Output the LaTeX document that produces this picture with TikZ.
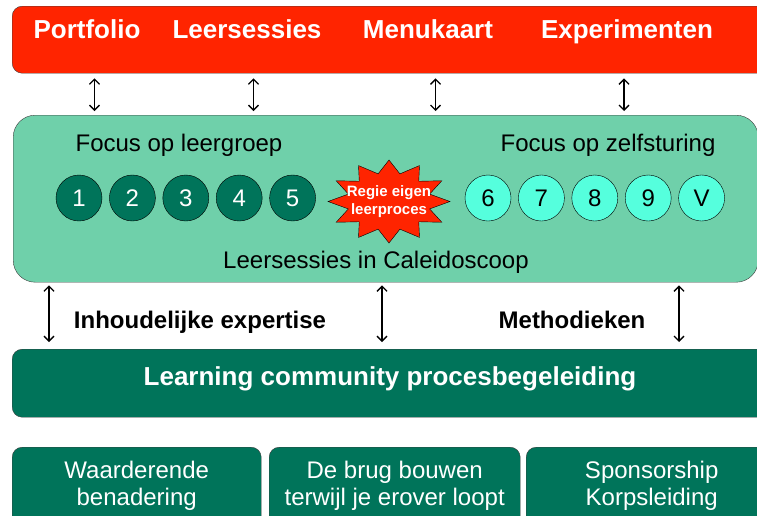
\documentclass[tikz,border=0pt]{standalone}
\usepackage{fontspec}
\setmainfont{Liberation Sans}
\usepackage{tikz}
\usetikzlibrary{shapes.geometric, arrows.meta, positioning}
\definecolor{bannerred}{RGB}{255,36,0}
\definecolor{mintgreen}{RGB}{111,208,170}
\definecolor{deepgreen}{RGB}{0,116,90}
\definecolor{aquaball}{RGB}{85,255,221}
\definecolor{edgegray}{RGB}{60,60,60}

\tikzset{
    bar/.style={draw=edgegray, anchor=north west, inner sep=0pt},
    topword/.style={anchor=base, text=white, font=\fontsize{26}{30}\selectfont\bfseries},
    plainword/.style={anchor=base, font=\fontsize{24}{28}\selectfont},
    boldword/.style={anchor=base, font=\fontsize{24}{28}\selectfont\bfseries},
    boxtext/.style={anchor=north, align=center, inner sep=0pt, text=white, font=\fontsize{24}{27}\selectfont},
    ball/.style={circle, draw=black, minimum size=46pt, inner sep=0pt, font=\fontsize{24}{28}\selectfont},
    link/.style={{Straight Barb[length=5pt,width=10pt]}-{Straight Barb[length=5pt,width=10pt]}, line width=1.3pt}
}

\begin{document}
\begin{tikzpicture}[x=1pt, y=-1pt]
    \useasboundingbox (0,0) rectangle (757,515);
    \clip (0,0) rectangle (757,515);

    % Top bar
    \node[bar, fill=bannerred, rounded corners=10pt, minimum width=780pt, minimum height=67pt] (topbar) at (12,6) {};
    \node[topword] (portfolio) at (87,38) {Portfolio};
    \node[topword] (sessies) at (247,38) {Leersessies};
    \node[topword] (menu) at (428,38) {Menukaart};
    \node[topword] (exper) at (627,38) {Experimenten};

    % Caleidoscoop
    \node[bar, fill=mintgreen, rounded corners=22pt, minimum width=745pt, minimum height=167pt] (cal) at (13,115) {};
    \node[plainword] (groep) at (179,151) {Focus op leergroep};
    \node[plainword] (zelf) at (608,151) {Focus op zelfsturing};
    \node[plainword] (calname) at (376,268) {Leersessies in Caleidoscoop};

    \node[ball, fill=deepgreen, text=white] (b1) at (79,198) {1};
    \node[ball, fill=deepgreen, text=white, right=7pt of b1] (b2) {2};
    \node[ball, fill=deepgreen, text=white, right=7pt of b2] (b3) {3};
    \node[ball, fill=deepgreen, text=white, right=7pt of b3] (b4) {4};
    \node[ball, fill=deepgreen, text=white, right=7pt of b4] (b5) {5};

    \node[ball, fill=aquaball] (b6) at (488,198) {6};
    \node[ball, fill=aquaball, right=7pt of b6] (b7) {7};
    \node[ball, fill=aquaball, right=7pt of b7] (b8) {8};
    \node[ball, fill=aquaball, right=7pt of b8] (b9) {9};
    \node[ball, fill=aquaball, right=7pt of b9] (bv) {V};

    % Regie star
    \node[star, star points=12, star point ratio=1.45, draw=black, fill=bannerred, inner sep=0pt, minimum size=83pt, xscale=1.47] (regie) at (389,201.5) {};
    \node[align=center, text=white, font=\fontsize{15}{18}\selectfont\bfseries, inner sep=0pt] (regietext) at (389,201.5) {Regie eigen\\leerproces};

    % Middle labels
    \node[boldword] (inhoud) at (200,328) {Inhoudelijke expertise};
    \node[boldword] (method) at (572,328) {Methodieken};

    % Process bar
    \node[bar, fill=deepgreen, rounded corners=10pt, minimum width=780pt, minimum height=68pt] (lc) at (12,349) {};
    \node[topword] (lcname) at (390,385) {Learning community procesbegeleiding};

    % Bottom boxes
    \node[bar, fill=deepgreen, rounded corners=10pt, minimum width=249pt, minimum height=90pt] (wa) at (12,447) {};
    \node[bar, fill=deepgreen, rounded corners=10pt, minimum width=251pt, minimum height=90pt] (brug) at (269,447) {};
    \node[bar, fill=deepgreen, rounded corners=10pt, minimum width=251pt, minimum height=90pt] (spons) at (526,447) {};
    \node[boxtext, below=14pt of wa.north] (watext) {Waarderende\\benadering};
    \node[boxtext, below=14pt of brug.north] (brugtext) {De brug bouwen\\terwijl je erover loopt};
    \node[boxtext, below=14pt of spons.north] (sponstext) {Sponsorship\\Korpsleiding};

    % Arrows
    \coordinate (t1) at (94.5,0);
    \coordinate (t2) at (253.5,0);
    \coordinate (t3) at (435.5,0);
    \coordinate (t4) at (624,0);
    \coordinate (m1) at (49,0);
    \coordinate (m2) at (382,0);
    \coordinate (m3) at (679,0);
    \draw[link, shorten <=5pt, shorten >=4pt] (t1 |- topbar.south) -- (t1 |- cal.north);
    \draw[link, shorten <=5pt, shorten >=4pt] (t2 |- topbar.south) -- (t2 |- cal.north);
    \draw[link, shorten <=5pt, shorten >=4pt] (t3 |- topbar.south) -- (t3 |- cal.north);
    \draw[link, shorten <=5pt, shorten >=4pt] (t4 |- topbar.south) -- (t4 |- cal.north);
    \draw[link, shorten <=3pt, shorten >=7pt] (m1 |- cal.south) -- (m1 |- lc.north);
    \draw[link, shorten <=3pt, shorten >=7pt] (m2 |- cal.south) -- (m2 |- lc.north);
    \draw[link, shorten <=3pt, shorten >=7pt] (m3 |- cal.south) -- (m3 |- lc.north);
\end{tikzpicture}
\end{document}
